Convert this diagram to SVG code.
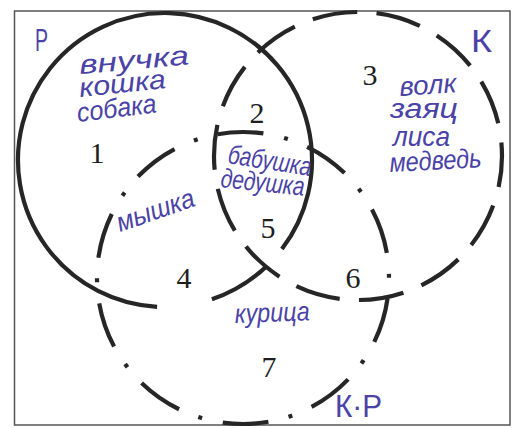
<svg xmlns="http://www.w3.org/2000/svg" width="521" height="428" viewBox="0 0 521 428">
<style>
.circ{fill:none;stroke:#262626;stroke-width:4.2;}
.num{font-family:"Liberation Serif","Times New Roman",serif;font-size:30px;fill:#1e1e1e;text-anchor:middle;}
.hw{font-family:"Liberation Sans",Arial,sans-serif;font-style:italic;font-size:27px;fill:#4a42a6;}
.cap{font-family:"Liberation Sans",Arial,sans-serif;font-size:32px;fill:#4a42a6;}
</style>
<rect x="0" y="0" width="521" height="428" fill="#ffffff"/>
<rect id="frame" x="14.5" y="11" width="495.5" height="414" fill="none" stroke="#555" stroke-width="1.5"/>

<g id="set-P">
  <path class="circ" d="M157.1 306.8 A147 147 0 1 1 281.9 249.1"/>
  <path class="circ" d="M267.1 265.7 A147 147 0 0 1 211.9 299.3"/>
  <text class="cap" x="35" y="51" textLength="13" lengthAdjust="spacingAndGlyphs">Р</text>
</g>

<g id="set-K">
  <circle class="circ" cx="358" cy="156" r="144" stroke-dasharray="45.24 19.39" stroke-dashoffset="14"/>
  <text class="cap" x="471" y="52" textLength="21" lengthAdjust="spacingAndGlyphs">К</text>
</g>

<g id="set-KP">
  <circle class="circ" cx="243" cy="278" r="146" stroke-dasharray="45.9 21.1 4 20.73" stroke-dashoffset="71.5"/>
  <text class="cap" x="335" y="417" font-size="30" textLength="47" lengthAdjust="spacingAndGlyphs">К·Р</text>
</g>

<g id="regions">
  <text class="num" x="97" y="163">1</text>
  <text class="num" x="257" y="123">2</text>
  <text class="num" x="370" y="85">3</text>
  <text class="num" x="184" y="288">4</text>
  <text class="num" x="268" y="238">5</text>
  <text class="num" x="353" y="288">6</text>
  <text class="num" x="269" y="377">7</text>
</g>

<g id="labels">
  <text class="hw" x="80" y="74" textLength="110" lengthAdjust="spacingAndGlyphs" transform="rotate(-5 80 74)">внучка</text>
  <text class="hw" x="80" y="97" textLength="87" lengthAdjust="spacingAndGlyphs" transform="rotate(-6 80 97)">кошка</text>
  <text class="hw" x="78" y="122" textLength="80" lengthAdjust="spacingAndGlyphs" transform="rotate(-7 78 122)">собака</text>
  <text class="hw" x="400" y="96" textLength="57" lengthAdjust="spacingAndGlyphs" transform="rotate(-4 400 96)">волк</text>
  <text class="hw" x="390" y="118" textLength="68" lengthAdjust="spacingAndGlyphs">заяц</text>
  <text class="hw" x="393" y="146" textLength="57" lengthAdjust="spacingAndGlyphs">лиса</text>
  <text class="hw" x="390" y="172" textLength="92" lengthAdjust="spacingAndGlyphs" transform="rotate(-3 390 172)">медведь</text>
  <text class="hw" x="227" y="163" font-size="24" textLength="84" lengthAdjust="spacingAndGlyphs" transform="rotate(9 227 163)">бабушка</text>
  <text class="hw" x="220" y="187" font-size="24" textLength="84" lengthAdjust="spacingAndGlyphs" transform="rotate(6 220 187)">дедушка</text>
  <text class="hw" x="120" y="232" font-size="25" textLength="81" lengthAdjust="spacingAndGlyphs" transform="rotate(-19 120 232)">мышка</text>
  <text class="hw" x="235" y="323" font-size="24" textLength="75" lengthAdjust="spacingAndGlyphs" transform="rotate(-2 235 323)">курица</text>
</g>
</svg>
